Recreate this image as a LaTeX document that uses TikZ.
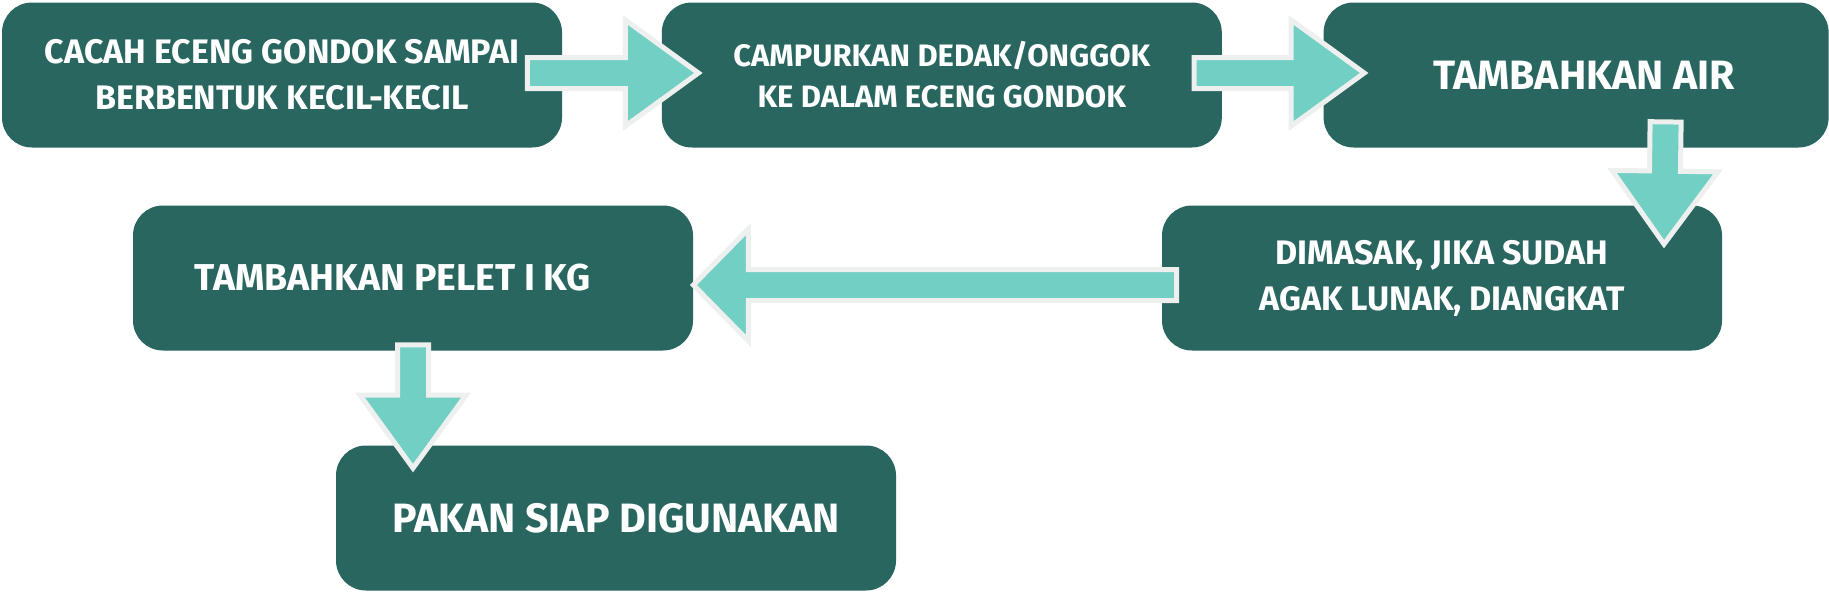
\documentclass[tikz,border=0pt]{standalone}
\usepackage{fontspec}
\setmainfont{Fira Sans}
\usetikzlibrary{positioning,calc}

\definecolor{boxgreen}{HTML}{28665F}
\definecolor{arrowfill}{HTML}{72CFC4}
\definecolor{arrowline}{HTML}{EEF0EF}

% block arrow: start, tip, head length, half width of head
\newcommand{\blockarrow}[4]{%
  \coordinate (ba-h) at ($(#2)!#3!(#1)$);
  \draw[arrowshape] ($(#1)!7.75pt!90:(#2)$) -- ($(ba-h)!7.75pt!90:(#2)$)
    -- ($(ba-h)!#4!90:(#2)$) -- (#2) -- ($(ba-h)!#4!-90:(#2)$)
    -- ($(ba-h)!7.75pt!-90:(#2)$) -- ($(#1)!7.75pt!-90:(#2)$) -- cycle;
}

\begin{document}
\begin{tikzpicture}[x=0.5pt, y=-0.5pt,
    stepbox/.style={rectangle, rounded corners=15pt, fill=boxgreen, text=white,
      font=\bfseries\fontsize{17}{23}\selectfont, align=center,
      minimum width=280pt, minimum height=72.5pt, inner sep=0pt},
    bigtext/.style={font=\bfseries\fontsize{20.5}{23}\selectfont},
    arrowshape/.style={fill=arrowfill, draw=arrowline, line width=2.5pt}]
    \fill[white] (0,0) rectangle (1829,594);
    \useasboundingbox (0,0) rectangle (1829,594);

    \node [stepbox] (cacah) at (282,75) {CACAH ECENG GONDOK SAMPAI\\BERBENTUK KECIL-KECIL};
    \node [stepbox, font=\bfseries\fontsize{15.5}{20.5}\selectfont] [right=49.5pt of cacah] (campur) {CAMPURKAN DEDAK/ONGGOK\\KE DALAM ECENG GONDOK};
    \node [stepbox, bigtext, minimum width=252.5pt] [right=50.5pt of campur] (air) {\hspace*{8pt}TAMBAHKAN AIR};
    \node [stepbox] (masak) at (1442,278) {DIMASAK, JIKA SUDAH\\AGAK LUNAK, DIANGKAT};
    \node [stepbox, font=\bfseries\fontsize{18.7}{23}\selectfont] (pelet) at (413,278) {TAMBAHKAN PELET I KG\hspace*{20pt}};
    \node [stepbox, bigtext] (pakan) at (616,518) {PAKAN SIAP DIGUNAKAN};

    \blockarrow{$(cacah.east)+(-35,-2)$}{$(campur.west)+(37,-2)$}{36.5pt}{26.5pt}
    \blockarrow{$(campur.east)+(-28,-2)$}{$(air.west)+(41,-2)$}{36.5pt}{26.5pt}
    \blockarrow{$(air.south)+(89.5,-26)$}{$(masak.north)+(222,39)$}{36.5pt}{26.5pt}
    \blockarrow{$(masak.west)+(15,7)$}{$(pelet.east)+(0,7)$}{27.5pt}{28pt}
    \blockarrow{$(pelet.south)+(0,-6)$}{$(pakan.north)+(-203,23)$}{36.5pt}{26.5pt}
\end{tikzpicture}
\end{document}
